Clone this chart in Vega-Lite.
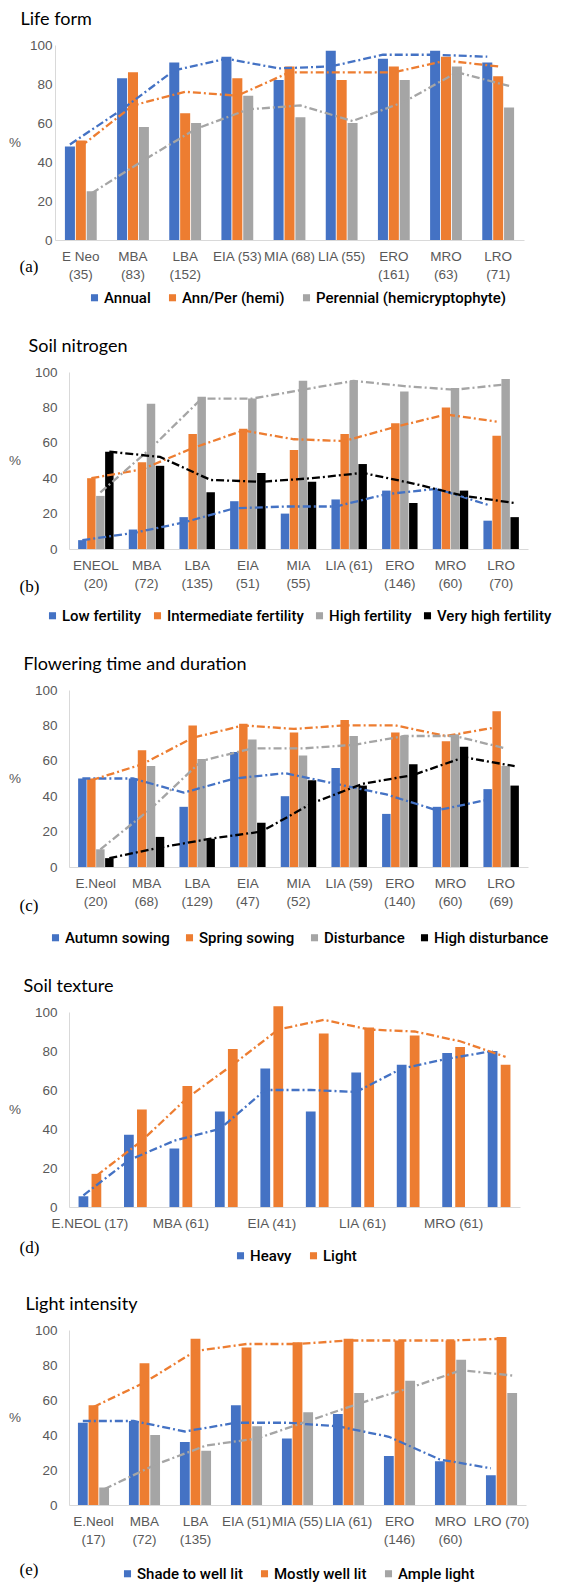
{
  "$schema": "https://vega.github.io/schema/vega-lite/v6.json",
  "background": "white",
  "padding": {"left": 8, "top": 11, "right": 0, "bottom": 0},
  "spacing": 32,
  "config": {
    "view": {"stroke": null},
    "title": {"font": "Lato", "fontSize": 18, "fontWeight": "normal", "color": "#000000", "anchor": "start", "offset": 9},
    "axis": {
      "domainColor": "#D9D9D9", "ticks": false, "grid": false,
      "labelFont": "Liberation Sans", "labelFontSize": 13.5, "labelColor": "#595959",
      "titleFontWeight": "normal"
    },
    "axisX": {"labelAngle": 0, "labelPadding": 9, "labelLineHeight": 18,
      "titleFont": "Liberation Serif", "titleFontSize": 17, "titleColor": "#000000",
      "titleAlign": "left", "titleBaseline": "middle"},
    "axisY": {"values": [0, 20, 40, 60, 80, 100], "titleAngle": 0, "titleAlign": "right", "titleBaseline": "middle",
      "titleFont": "Liberation Sans", "titleFontSize": 13.5, "titleColor": "#595959", "titlePadding": 14},
    "legend": {"orient": "bottom", "direction": "horizontal", "title": null, "symbolType": "square",
      "symbolSize": 50, "symbolStrokeWidth": 0, "labelFont": "Roboto", "labelFontSize": 15, "labelFontWeight": 500, "labelColor": "#000000",
      "columnPadding": 14, "labelOffset": 2, "symbolDash": [], "labelLimit": 0,
      "layout": {"bottom": {"anchor": "middle"}}},
    "bar": {"stroke": null},
    "line": {"strokeDash": [8, 3, 2, 3], "strokeWidth": 2.3}
  },
  "resolve": {"scale": {"x": "independent", "y": "independent", "color": "independent", "xOffset": "independent"}, "legend": {"color": "independent"}},
  "vconcat": [
    {
      "title": {"text": "Life form", "dx": 12},
      "width": 455, "height": 195,
      "data": {"values": [
        {"g": "E Neo (35)", "s": "Annual", "v": 48, "t": 49},
        {"g": "E Neo (35)", "s": "Ann/Per (hemi)", "v": 51, "t": 48},
        {"g": "E Neo (35)", "s": "Perennial (hemicryptophyte)", "v": 25, "t": 24},
        {"g": "MBA (83)", "s": "Annual", "v": 83, "t": 67},
        {"g": "MBA (83)", "s": "Ann/Per (hemi)", "v": 86, "t": 69},
        {"g": "MBA (83)", "s": "Perennial (hemicryptophyte)", "v": 58, "t": 41},
        {"g": "LBA (152)", "s": "Annual", "v": 91, "t": 87},
        {"g": "LBA (152)", "s": "Ann/Per (hemi)", "v": 65, "t": 76},
        {"g": "LBA (152)", "s": "Perennial (hemicryptophyte)", "v": 60, "t": 57},
        {"g": "EIA (53)", "s": "Annual", "v": 94, "t": 93},
        {"g": "EIA (53)", "s": "Ann/Per (hemi)", "v": 83, "t": 74},
        {"g": "EIA (53)", "s": "Perennial (hemicryptophyte)", "v": 74, "t": 67},
        {"g": "MIA (68)", "s": "Annual", "v": 82, "t": 88},
        {"g": "MIA (68)", "s": "Ann/Per (hemi)", "v": 89, "t": 86},
        {"g": "MIA (68)", "s": "Perennial (hemicryptophyte)", "v": 63, "t": 69},
        {"g": "LIA (55)", "s": "Annual", "v": 97, "t": 89},
        {"g": "LIA (55)", "s": "Ann/Per (hemi)", "v": 82, "t": 86},
        {"g": "LIA (55)", "s": "Perennial (hemicryptophyte)", "v": 60, "t": 61},
        {"g": "ERO (161)", "s": "Annual", "v": 93, "t": 95},
        {"g": "ERO (161)", "s": "Ann/Per (hemi)", "v": 89, "t": 86},
        {"g": "ERO (161)", "s": "Perennial (hemicryptophyte)", "v": 82, "t": 71},
        {"g": "MRO (63)", "s": "Annual", "v": 97, "t": 95},
        {"g": "MRO (63)", "s": "Ann/Per (hemi)", "v": 94, "t": 92},
        {"g": "MRO (63)", "s": "Perennial (hemicryptophyte)", "v": 89, "t": 86},
        {"g": "LRO (71)", "s": "Annual", "v": 91, "t": 94},
        {"g": "LRO (71)", "s": "Ann/Per (hemi)", "v": 84, "t": 89},
        {"g": "LRO (71)", "s": "Perennial (hemicryptophyte)", "v": 68, "t": 79}
      ]},
      "encoding": {
        "x": {"field": "g", "type": "nominal", "sort": null, "scale": {"paddingInner": 0.39, "paddingOuter": 0.19, "range": [-14, 455]},
          "axis": {"title": "(a)", "titleX": -50, "titleY": 26,
            "labelExpr": "indexof(['EIA (53)','MIA (68)','LIA (55)'], datum.value) >= 0 ? datum.value : split(replace(datum.value, ' (', '|('), '|')"}},
        "xOffset": {"field": "s", "type": "nominal", "sort": null, "scale": {"paddingInner": 0.08}},
        "color": {"field": "s", "type": "nominal", "sort": null, "scale": {"range": ["#4472C4", "#ED7D31", "#A5A5A5"]}, "legend": {"offset": 9}}
      },
      "layer": [
        {"mark": "bar", "encoding": {"y": {"field": "v", "type": "quantitative", "scale": {"domain": [0, 100], "nice": false}, "axis": {"title": "%", "labelPadding": 3, "offset": 14, "titlePadding": 9}}}},
        {"mark": "line", "encoding": {"y": {"field": "t", "type": "quantitative", "scale": {"domain": [0, 100], "nice": false}, "axis": {"title": "%", "labelPadding": 3, "offset": 14, "titlePadding": 9}}}}
      ]
    },
    {
      "title": {"text": "Soil nitrogen", "dx": 20},
      "width": 459, "height": 177,
      "data": {"values": [
        {"g": "ENEOL (20)", "s": "Low fertility", "v": 5, "t": 5},
        {"g": "ENEOL (20)", "s": "Intermediate fertility", "v": 40, "t": 40},
        {"g": "ENEOL (20)", "s": "High fertility", "v": 30, "t": 32},
        {"g": "ENEOL (20)", "s": "Very high fertility", "v": 55, "t": 55},
        {"g": "MBA (72)", "s": "Low fertility", "v": 11, "t": 9},
        {"g": "MBA (72)", "s": "Intermediate fertility", "v": 49, "t": 45},
        {"g": "MBA (72)", "s": "High fertility", "v": 82, "t": 57},
        {"g": "MBA (72)", "s": "Very high fertility", "v": 47, "t": 52},
        {"g": "LBA (135)", "s": "Low fertility", "v": 18, "t": 15},
        {"g": "LBA (135)", "s": "Intermediate fertility", "v": 65, "t": 57},
        {"g": "LBA (135)", "s": "High fertility", "v": 86, "t": 85},
        {"g": "LBA (135)", "s": "Very high fertility", "v": 32, "t": 39},
        {"g": "EIA (51)", "s": "Low fertility", "v": 27, "t": 23},
        {"g": "EIA (51)", "s": "Intermediate fertility", "v": 68, "t": 67},
        {"g": "EIA (51)", "s": "High fertility", "v": 85, "t": 85},
        {"g": "EIA (51)", "s": "Very high fertility", "v": 43, "t": 38},
        {"g": "MIA (55)", "s": "Low fertility", "v": 20, "t": 24},
        {"g": "MIA (55)", "s": "Intermediate fertility", "v": 56, "t": 62},
        {"g": "MIA (55)", "s": "High fertility", "v": 95, "t": 90},
        {"g": "MIA (55)", "s": "Very high fertility", "v": 38, "t": 40},
        {"g": "LIA (61)", "s": "Low fertility", "v": 28, "t": 24},
        {"g": "LIA (61)", "s": "Intermediate fertility", "v": 65, "t": 61},
        {"g": "LIA (61)", "s": "High fertility", "v": 95, "t": 95},
        {"g": "LIA (61)", "s": "Very high fertility", "v": 48, "t": 43},
        {"g": "ERO (146)", "s": "Low fertility", "v": 33, "t": 31},
        {"g": "ERO (146)", "s": "Intermediate fertility", "v": 71, "t": 69},
        {"g": "ERO (146)", "s": "High fertility", "v": 89, "t": 92},
        {"g": "ERO (146)", "s": "Very high fertility", "v": 26, "t": 37},
        {"g": "MRO (60)", "s": "Low fertility", "v": 34, "t": 34},
        {"g": "MRO (60)", "s": "Intermediate fertility", "v": 80, "t": 76},
        {"g": "MRO (60)", "s": "High fertility", "v": 91, "t": 90},
        {"g": "MRO (60)", "s": "Very high fertility", "v": 33, "t": 30},
        {"g": "LRO (70)", "s": "Low fertility", "v": 16, "t": 25},
        {"g": "LRO (70)", "s": "Intermediate fertility", "v": 64, "t": 72},
        {"g": "LRO (70)", "s": "High fertility", "v": 96, "t": 93},
        {"g": "LRO (70)", "s": "Very high fertility", "v": 18, "t": 26}
      ]},
      "encoding": {
        "x": {"field": "g", "type": "nominal", "sort": null, "scale": {"paddingInner": 0.3, "paddingOuter": 0.18},
          "axis": {"title": "(b)", "titleX": -50, "titleY": 37,
            "labelExpr": "indexof(['LIA (61)'], datum.value) >= 0 ? datum.value : split(replace(datum.value, ' (', '|('), '|')"}},
        "xOffset": {"field": "s", "type": "nominal", "sort": null, "scale": {"paddingInner": 0.06}},
        "color": {"field": "s", "type": "nominal", "sort": null, "scale": {"range": ["#4472C4", "#ED7D31", "#A5A5A5", "#000000"]}, "legend": {"offset": 14, "columnPadding": 8}}
      },
      "layer": [
        {"mark": "bar", "encoding": {"y": {"field": "v", "type": "quantitative", "scale": {"domain": [0, 100], "nice": false}, "axis": {"title": "%", "labelPadding": 12}}}},
        {"mark": "line", "encoding": {"y": {"field": "t", "type": "quantitative", "scale": {"domain": [0, 100], "nice": false}, "axis": {"title": "%", "labelPadding": 12}}}}
      ]
    },
    {
      "title": {"text": "Flowering time and duration", "dx": 15},
      "width": 459, "height": 177,
      "data": {"values": [
        {"g": "E.Neol (20)", "s": "Autumn sowing", "v": 50, "t": 50},
        {"g": "E.Neol (20)", "s": "Spring sowing", "v": 50, "t": 49},
        {"g": "E.Neol (20)", "s": "Disturbance", "v": 10, "t": 10},
        {"g": "E.Neol (20)", "s": "High disturbance", "v": 5, "t": 5},
        {"g": "MBA (68)", "s": "Autumn sowing", "v": 50, "t": 50},
        {"g": "MBA (68)", "s": "Spring sowing", "v": 66, "t": 58},
        {"g": "MBA (68)", "s": "Disturbance", "v": 57, "t": 33},
        {"g": "MBA (68)", "s": "High disturbance", "v": 17, "t": 11},
        {"g": "LBA (129)", "s": "Autumn sowing", "v": 34, "t": 42},
        {"g": "LBA (129)", "s": "Spring sowing", "v": 80, "t": 73},
        {"g": "LBA (129)", "s": "Disturbance", "v": 61, "t": 60},
        {"g": "LBA (129)", "s": "High disturbance", "v": 16, "t": 16},
        {"g": "EIA (47)", "s": "Autumn sowing", "v": 65, "t": 50},
        {"g": "EIA (47)", "s": "Spring sowing", "v": 81, "t": 80},
        {"g": "EIA (47)", "s": "Disturbance", "v": 72, "t": 67},
        {"g": "EIA (47)", "s": "High disturbance", "v": 25, "t": 20},
        {"g": "MIA (52)", "s": "Autumn sowing", "v": 40, "t": 53},
        {"g": "MIA (52)", "s": "Spring sowing", "v": 76, "t": 78},
        {"g": "MIA (52)", "s": "Disturbance", "v": 63, "t": 67},
        {"g": "MIA (52)", "s": "High disturbance", "v": 49, "t": 36},
        {"g": "LIA (59)", "s": "Autumn sowing", "v": 56, "t": 47},
        {"g": "LIA (59)", "s": "Spring sowing", "v": 83, "t": 80},
        {"g": "LIA (59)", "s": "Disturbance", "v": 74, "t": 69},
        {"g": "LIA (59)", "s": "High disturbance", "v": 46, "t": 47},
        {"g": "ERO (140)", "s": "Autumn sowing", "v": 30, "t": 41},
        {"g": "ERO (140)", "s": "Spring sowing", "v": 76, "t": 80},
        {"g": "ERO (140)", "s": "Disturbance", "v": 74, "t": 74},
        {"g": "ERO (140)", "s": "High disturbance", "v": 58, "t": 52},
        {"g": "MRO (60)", "s": "Autumn sowing", "v": 34, "t": 32},
        {"g": "MRO (60)", "s": "Spring sowing", "v": 71, "t": 74},
        {"g": "MRO (60)", "s": "Disturbance", "v": 75, "t": 74},
        {"g": "MRO (60)", "s": "High disturbance", "v": 68, "t": 62},
        {"g": "LRO (69)", "s": "Autumn sowing", "v": 44, "t": 38},
        {"g": "LRO (69)", "s": "Spring sowing", "v": 88, "t": 79},
        {"g": "LRO (69)", "s": "Disturbance", "v": 57, "t": 67},
        {"g": "LRO (69)", "s": "High disturbance", "v": 46, "t": 57}
      ]},
      "encoding": {
        "x": {"field": "g", "type": "nominal", "sort": null, "scale": {"paddingInner": 0.3, "paddingOuter": 0.18},
          "axis": {"title": "(c)", "titleX": -50, "titleY": 38,
            "labelExpr": "indexof(['LIA (59)'], datum.value) >= 0 ? datum.value : split(replace(datum.value, ' (', '|('), '|')"}},
        "xOffset": {"field": "s", "type": "nominal", "sort": null, "scale": {"paddingInner": 0.06}},
        "color": {"field": "s", "type": "nominal", "sort": null, "scale": {"range": ["#4472C4", "#ED7D31", "#A5A5A5", "#000000"]}, "legend": {"offset": 17, "columnPadding": 12}}
      },
      "layer": [
        {"mark": "bar", "encoding": {"y": {"field": "v", "type": "quantitative", "scale": {"domain": [0, 100], "nice": false}, "axis": {"title": "%", "labelPadding": 12}}}},
        {"mark": "line", "encoding": {"y": {"field": "t", "type": "quantitative", "scale": {"domain": [0, 100], "nice": false}, "axis": {"title": "%", "labelPadding": 12}}}}
      ]
    },
    {
      "title": {"text": "Soil texture", "dx": 15},
      "width": 451, "height": 195,
      "data": {"values": [
        {"g": "E.NEOL (17)", "s": "Heavy", "v": 5.5, "t": 6},
        {"g": "E.NEOL (17)", "s": "Light", "v": 17, "t": 16},
        {"g": "EBA", "s": "Heavy", "v": 37, "t": 24},
        {"g": "EBA", "s": "Light", "v": 50, "t": 34},
        {"g": "MBA (61)", "s": "Heavy", "v": 30, "t": 34},
        {"g": "MBA (61)", "s": "Light", "v": 62, "t": 56},
        {"g": "LBA", "s": "Heavy", "v": 49, "t": 40},
        {"g": "LBA", "s": "Light", "v": 81, "t": 73},
        {"g": "EIA (41)", "s": "Heavy", "v": 71, "t": 60},
        {"g": "EIA (41)", "s": "Light", "v": 103, "t": 91},
        {"g": "MIA", "s": "Heavy", "v": 49, "t": 60},
        {"g": "MIA", "s": "Light", "v": 89, "t": 96},
        {"g": "LIA (61)", "s": "Heavy", "v": 69, "t": 59},
        {"g": "LIA (61)", "s": "Light", "v": 92, "t": 91},
        {"g": "ERO", "s": "Heavy", "v": 73, "t": 71},
        {"g": "ERO", "s": "Light", "v": 88, "t": 90},
        {"g": "MRO (61)", "s": "Heavy", "v": 79, "t": 76},
        {"g": "MRO (61)", "s": "Light", "v": 82, "t": 85},
        {"g": "LRO", "s": "Heavy", "v": 80, "t": 80},
        {"g": "LRO", "s": "Light", "v": 73, "t": 77}
      ]},
      "encoding": {
        "x": {"field": "g", "type": "nominal", "sort": null, "scale": {"paddingInner": 0.5, "paddingOuter": 0.21},
          "axis": {"title": "(d)", "titleX": -50, "titleY": 40,
            "values": ["E.NEOL (17)", "MBA (61)", "EIA (41)", "LIA (61)", "MRO (61)"]}},
        "xOffset": {"field": "s", "type": "nominal", "sort": null, "scale": {"paddingInner": 0.25}},
        "color": {"field": "s", "type": "nominal", "sort": null, "scale": {"range": ["#4472C4", "#ED7D31"]}, "legend": {"offset": -7}}
      },
      "layer": [
        {"mark": "bar", "encoding": {"y": {"field": "v", "type": "quantitative", "scale": {"domain": [0, 100], "nice": false}, "axis": {"title": "%", "labelPadding": 12}}}},
        {"mark": "line", "encoding": {"y": {"field": "t", "type": "quantitative", "scale": {"domain": [0, 100], "nice": false}, "axis": {"title": "%", "labelPadding": 12}}}}
      ]
    },
    {
      "title": {"text": "Light intensity", "dx": 17},
      "width": 457, "height": 175,
      "data": {"values": [
        {"g": "E.Neol (17)", "s": "Shade to well lit", "v": 47, "t": 48},
        {"g": "E.Neol (17)", "s": "Mostly well lit", "v": 57, "t": 56},
        {"g": "E.Neol (17)", "s": "Ample light", "v": 10, "t": 9},
        {"g": "MBA (72)", "s": "Shade to well lit", "v": 48, "t": 48},
        {"g": "MBA (72)", "s": "Mostly well lit", "v": 81, "t": 70},
        {"g": "MBA (72)", "s": "Ample light", "v": 40, "t": 23},
        {"g": "LBA (135)", "s": "Shade to well lit", "v": 36, "t": 42},
        {"g": "LBA (135)", "s": "Mostly well lit", "v": 95, "t": 88},
        {"g": "LBA (135)", "s": "Ample light", "v": 31, "t": 34},
        {"g": "EIA (51)", "s": "Shade to well lit", "v": 57, "t": 47},
        {"g": "EIA (51)", "s": "Mostly well lit", "v": 90, "t": 92},
        {"g": "EIA (51)", "s": "Ample light", "v": 45, "t": 38},
        {"g": "MIA (55)", "s": "Shade to well lit", "v": 38, "t": 47},
        {"g": "MIA (55)", "s": "Mostly well lit", "v": 93, "t": 92},
        {"g": "MIA (55)", "s": "Ample light", "v": 53, "t": 48},
        {"g": "LIA (61)", "s": "Shade to well lit", "v": 52, "t": 45},
        {"g": "LIA (61)", "s": "Mostly well lit", "v": 95, "t": 94},
        {"g": "LIA (61)", "s": "Ample light", "v": 64, "t": 58},
        {"g": "ERO (146)", "s": "Shade to well lit", "v": 28, "t": 39},
        {"g": "ERO (146)", "s": "Mostly well lit", "v": 94, "t": 94},
        {"g": "ERO (146)", "s": "Ample light", "v": 71, "t": 67},
        {"g": "MRO (60)", "s": "Shade to well lit", "v": 25, "t": 26},
        {"g": "MRO (60)", "s": "Mostly well lit", "v": 94, "t": 94},
        {"g": "MRO (60)", "s": "Ample light", "v": 83, "t": 77},
        {"g": "LRO (70)", "s": "Shade to well lit", "v": 17, "t": 21},
        {"g": "LRO (70)", "s": "Mostly well lit", "v": 96, "t": 95},
        {"g": "LRO (70)", "s": "Ample light", "v": 64, "t": 74}
      ]},
      "encoding": {
        "x": {"field": "g", "type": "nominal", "sort": null, "scale": {"paddingInner": 0.39, "paddingOuter": 0.175},
          "axis": {"title": "(e)", "titleX": -50, "titleY": 64,
            "labelExpr": "indexof(['EIA (51)','MIA (55)','LIA (61)','LRO (70)'], datum.value) >= 0 ? datum.value : split(replace(datum.value, ' (', '|('), '|')"}},
        "xOffset": {"field": "s", "type": "nominal", "sort": null, "scale": {"paddingInner": 0.08}},
        "color": {"field": "s", "type": "nominal", "sort": null, "scale": {"range": ["#4472C4", "#ED7D31", "#A5A5A5"]}, "legend": {"offset": -11}}
      },
      "layer": [
        {"mark": "bar", "encoding": {"y": {"field": "v", "type": "quantitative", "scale": {"domain": [0, 100], "nice": false}, "axis": {"title": "%", "labelPadding": 12}}}},
        {"mark": "line", "encoding": {"y": {"field": "t", "type": "quantitative", "scale": {"domain": [0, 100], "nice": false}, "axis": {"title": "%", "labelPadding": 12}}}}
      ]
    }
  ]
}
